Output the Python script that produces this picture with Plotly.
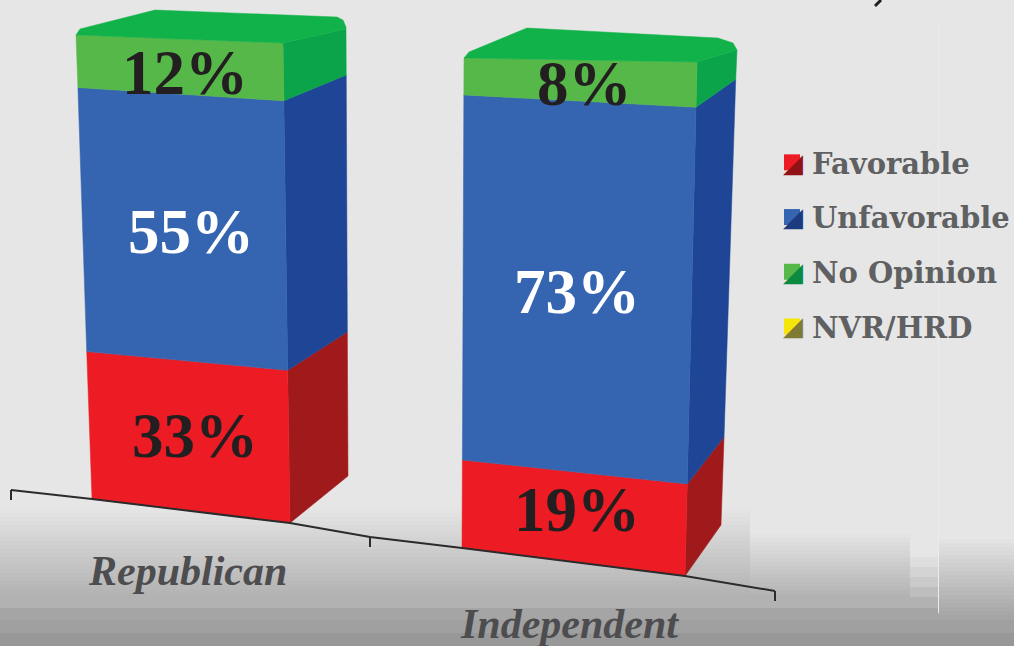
import plotly.graph_objects as go

# ---- data ----
categories = ["Republican", "Independent"]
series_names = ["Favorable", "Unfavorable", "No Opinion", "NVR/HRD"]
favorable = [33, 19]
unfavorable = [55, 73]
no_opinion = [12, 8]
nvr_hrd = [0, 0]
series_values = [favorable, unfavorable, no_opinion, nvr_hrd]

# ---- styles ----
front_colors = ["#ED1C24", "#3565B0", "#55B848", "#F5E60A"]
side_colors = ["#A01A1C", "#1F4596", "#0BA44A", "#7A7430"]
dark_swatch = ["#8E1216", "#1B3A80", "#0B8A42", "#7F7B35"]
top_color = "#12B24A"
label_colors = ["#231F20", "#FFFFFF", "#231F20", "#231F20"]

# projected box geometry: where 0 and 100 fall on each vertical edge of the box,
# plus the ground corners and the cap outline that close the solid
boxes = [
    dict(fl0=(92, 510), fr0=(290, 532), sb0=(348, 486),
         fl1=(76, 30), fr1=(283, 42), sb1=(346, 19),
         g_fl=(92, 499), g_fr=(290, 523), g_sb=(348, 476),
         t_fl=(76, 35), t_fr=(283, 43), t_sb=(346, 29),
         cap=[(76, 35), (80, 29), (155, 10), (337, 17), (343, 20), (346, 27), (346, 29)]),
    dict(fl0=(462, 555), fr0=(685, 582), sb0=(721, 530),
         fl1=(464, 55), fr1=(697, 66), sb1=(737, 40),
         g_fl=(462, 548), g_fr=(685, 576), g_sb=(721, 525),
         t_fl=(464, 58), t_fr=(697, 62), t_sb=(737, 50),
         cap=[(464, 58), (469, 52), (527, 28), (718, 38), (733, 43), (737, 49), (737, 50)]),
]
label_dx = [[6, 7, 5], [3, 0, 4]]
label_dy = [[0, 4, 6], [-7, 5, 3]]


def edge(box, key, t):
    if t <= 0:
        return box["g_" + key]
    if t >= 100:
        return box["t_" + key]
    a, b = box[key + "0"], box[key + "1"]
    return (a[0] + (b[0] - a[0]) * t / 100, a[1] + (b[1] - a[1]) * t / 100)


def poly(points, color, name="", customtext=None):
    xs = [p[0] for p in points] + [points[0][0]]
    ys = [p[1] for p in points] + [points[0][1]]
    return go.Scatter(x=xs, y=ys, mode="lines", fill="toself", fillcolor=color,
                      line=dict(color=color, width=0.5), showlegend=False,
                      hoverinfo="text", text=customtext, name=name)


fig = go.Figure()
annotations = []

# Bars
for b, box in enumerate(boxes):
    cum = 0
    for s, values in enumerate(series_values):
        v = values[b]
        if v == 0:
            continue
        lo, hi = cum, cum + v
        cum = hi
        tip = f"{categories[b]} – {series_names[s]}: {v}%"
        fl = edge(box, "fl", lo), edge(box, "fl", hi)
        fr = edge(box, "fr", lo), edge(box, "fr", hi)
        sb = edge(box, "sb", lo), edge(box, "sb", hi)
        fig.add_trace(poly([fr[0], sb[0], sb[1], fr[1]], side_colors[s], series_names[s], tip))
        fig.add_trace(poly([fl[0], fr[0], fr[1], fl[1]], front_colors[s], series_names[s], tip))
        cx = (fl[0][0] + fl[1][0] + fr[0][0] + fr[1][0]) / 4
        cy = (fl[0][1] + fl[1][1] + fr[0][1] + fr[1][1]) / 4
        annotations.append(dict(x=cx + label_dx[b][s], y=cy + label_dy[b][s], text=f"<b>{v}%</b>",
                                showarrow=False,
                                font=dict(family="Liberation Serif", size=63, color=label_colors[s]),
                                xanchor="center", yanchor="middle"))
    fig.add_trace(poly(box["cap"] + [box["t_fr"]], top_color, categories[b] + " top"))

# Sloped category axis
axis_path = [(11, 490), (92, 499), (290, 523), (370, 537), (462, 548), (685, 576), (775, 591)]
tick_len = 10
for p in (axis_path[0], axis_path[3], axis_path[6]):
    fig.add_trace(go.Scatter(x=[p[0], p[0]], y=[p[1], p[1] + tick_len], mode="lines",
                             line=dict(color="#2B2B2B", width=2), showlegend=False, hoverinfo="skip"))
fig.add_trace(go.Scatter(x=[p[0] for p in axis_path], y=[p[1] for p in axis_path], mode="lines",
                         line=dict(color="#2B2B2B", width=2), showlegend=False, hoverinfo="skip"))
for name, (x, y) in zip(categories, [(187, 571), (569, 624)]):
    annotations.append(dict(x=x, y=y, text=f"<b><i>{name}</i></b>", showarrow=False,
                            font=dict(family="Liberation Serif", size=42, color="#4D4D4F"),
                            xanchor="center", yanchor="middle"))

# Cropped stroke at the top edge of the picture
fig.add_trace(go.Scatter(x=[881, 875], y=[0, 6], mode="lines", line=dict(color="#231F20", width=3),
                         showlegend=False, hoverinfo="skip"))

# Legend entries
for s, name in enumerate(series_names):
    fig.add_trace(go.Scatter(x=[None], y=[None], mode="markers", name=name, legendgroup=name,
                             marker=dict(symbol="square", size=21, color=front_colors[s])))

# Darker lower-right half of each legend swatch
for s, y in enumerate((163, 217, 272, 326)):
    annotations.append(dict(x=793, y=y, text="◢", showarrow=False, xanchor="center", yanchor="middle",
                            font=dict(family="DejaVu Sans", size=26, color=dark_swatch[s])))

# Background
BASE = "#E6E6E6"
shapes = []


def grey(v):
    v = int(round(v))
    return f"rgb({v},{v},{v})"


def band(x0, x1, y0, y1, v):
    shapes.append(dict(type="rect", xref="x", yref="y", x0=x0, x1=x1, y0=y0, y1=y1,
                       fillcolor=grey(v), line_width=0, layer="below"))


for y in range(505, 597, 4):  # left panel fade
    band(0, 750, y, y + 4, 230 - (y - 505) / 92 * 54)
for y in range(530, 597, 4):
    band(750, 910, y, y + 4, 230 - (y - 530) / 67 * 54)
for y, v in zip((557, 567, 577, 587), (222, 212, 202, 190)):
    band(910, 938, y, y + 10, v)
for y0, y1, v in ((597, 608, 178), (608, 620, 165), (620, 633, 160), (633, 646, 152)):
    band(0, 1014, y0, y1, v)
for y in range(535, 613, 4):  # right panel fade
    band(938, 1014, y, y + 4, 230 - (y - 535) / 78 * 64)
band(938, 939, 20, 613, 236)

fig.update_layout(
    width=1014, height=646, margin=dict(l=0, r=0, t=0, b=0, autoexpand=False),
    paper_bgcolor=BASE, plot_bgcolor=BASE,
    xaxis=dict(range=[0, 1014], visible=False, fixedrange=True),
    yaxis=dict(range=[646, 0], visible=False, fixedrange=True),
    shapes=shapes, annotations=annotations,
    legend=dict(x=772 / 1014, xanchor="left", y=1 - 137 / 646, yanchor="top",
                traceorder="grouped", tracegroupgap=14, bgcolor="rgba(0,0,0,0)",
                font=dict(family="DejaVu Serif", size=29, color="#5F6062", weight="bold"),
                itemclick=False, itemdoubleclick=False),
)
fig.write_html("out.html", config={"displayModeBar": False},
               post_script="document.body.style.margin='0';document.body.style.overflow='hidden';")
